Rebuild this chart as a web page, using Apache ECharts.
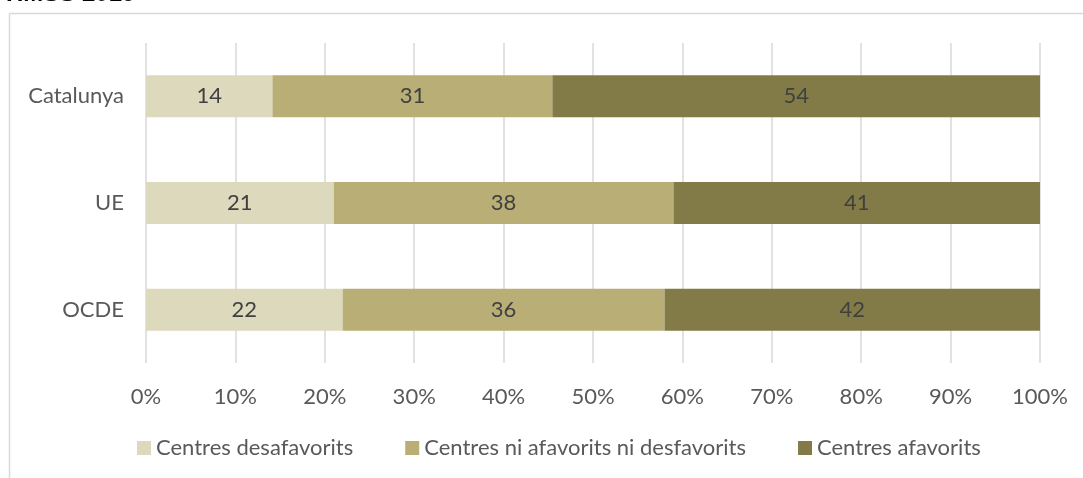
<!DOCTYPE html>
<html lang="ca">
<head>
<meta charset="UTF-8">
<title>TIMSS 2019</title>
<script src="https://cdn.jsdelivr.net/npm/echarts@6/dist/echarts.min.js"></script>
<style>
  html, body { margin: 0; padding: 0; background: #fff; }
  #chart { width: 1083px; height: 478px; }
</style>
</head>
<body>
<div id="chart"></div>
<script>
// dades
var categories = ['Catalunya', 'UE', 'OCDE'];
var seriesNames = ['Centres desafavorits', 'Centres ni afavorits ni desfavorits', 'Centres afavorits'];
var desafavorits = [14, 21, 22];
var niNi = [31, 38, 36];
var afavorits = [54, 41, 42];
var xTicks = [0, 10, 20, 30, 40, 50, 60, 70, 80, 90, 100];
var colors = ['#DDD9BD', '#B8AE76', '#837B47'];

var raw = [desafavorits, niNi, afavorits];
// gràfic 100% apilat: cada fila es normalitza al total
var totals = categories.map(function (c, i) {
  return desafavorits[i] + niNi[i] + afavorits[i];
});

var chart = echarts.init(document.getElementById('chart'));

var series = raw.map(function (vals, s) {
  return {
    name: seriesNames[s],
    type: 'bar',
    stack: 'total',
    barWidth: 42,
    itemStyle: { color: colors[s] },
    label: {
      show: true,
      position: 'inside',
      color: '#404040',
      fontSize: 22,
      fontFamily: 'Lato',
      formatter: function (p) { return vals[p.dataIndex]; }
    },
    data: vals.map(function (v, i) { return v / totals[i] * 100; })
  };
});

chart.setOption({
  animation: false,
  title: {
    text: 'TIMSS 2019',
    left: 2,
    top: -18,
    padding: 0,
    textStyle: { fontFamily: 'Liberation Sans', fontWeight: 'bold', fontSize: 24, color: '#000' }
  },
  graphic: [
    { type: 'line', shape: { x1: 9.5, y1: 13.5, x2: 1083, y2: 13.5 }, style: { stroke: '#D9D9D9', lineWidth: 1.5 } },
    { type: 'line', shape: { x1: 9.5, y1: 13.5, x2: 9.5, y2: 478 }, style: { stroke: '#D9D9D9', lineWidth: 1.5 } }
  ],
  legend: {
    data: seriesNames,
    top: 432,
    left: 132,
    itemWidth: 14,
    itemHeight: 14,
    itemGap: 52,
    icon: 'rect',
    textStyle: { fontFamily: 'Lato', fontSize: 22, color: '#595959' }
  },
  grid: { left: 146, right: 43, top: 43, bottom: 115 },
  xAxis: {
    type: 'value',
    min: 0,
    max: 100,
    interval: 10,
    axisLine: { show: false },
    axisTick: { show: false },
    splitLine: { lineStyle: { color: '#D9D9D9', width: 1.5 } },
    axisLabel: {
      margin: 23,
      fontFamily: 'Lato',
      fontSize: 22,
      color: '#595959',
      customValues: xTicks,
      formatter: function (v) { return v + '%'; }
    }
  },
  yAxis: {
    type: 'category',
    data: categories,
    inverse: true,
    axisLine: { show: false },
    axisTick: { show: false },
    axisLabel: { margin: 22, fontFamily: 'Lato', fontSize: 22, color: '#595959' }
  },
  series: series
});
</script>
</body>
</html>
